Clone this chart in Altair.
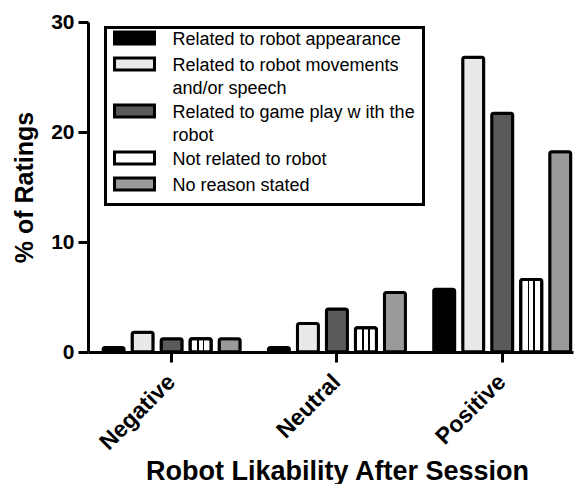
import altair as alt
import pandas as pd

groups = ["Negative", "Neutral", "Positive"]
categories = [
    "Related to robot appearance",
    "Related to robot movements|and/or speech",
    "Related to game play w ith the|robot",
    "Not related to robot",
    "No reason stated",
]
appearance = [0.4, 0.4, 5.7]
movements = [1.8, 2.6, 26.8]
game_play = [1.2, 3.9, 21.7]
not_related = [1.2, 2.2, 6.6]
no_reason = [1.2, 5.4, 18.2]
y_ticks = [0, 10, 20, 30]

series = [appearance, movements, game_play, not_related, no_reason]
fills = ["#000000", "#e9e9e9", "#5a5a5a", "#ffffff", "#9a9a9a"]

rows = []
for cat, vals in zip(categories, series):
    for g, v in zip(groups, vals):
        rows.append({"group": g, "cat": cat, "value": v})
df = pd.DataFrame(rows)

FONT = "Liberation Sans"

x_enc = alt.X(
    "group:N",
    sort=groups,
    scale=alt.Scale(paddingInner=0.171, paddingOuter=0.0526, align=0.87),
    axis=alt.Axis(
        title="Robot Likability After Session",
        labelAngle=-45, labelAlign="right", labelBaseline="middle",
        labelPadding=16, labelFontSize=23, labelFontWeight="bold",
        titleFontSize=27, titleFontWeight="bold",
        titleX=249, titleY=127, titleBaseline="alphabetic", titleAlign="center",
        domainWidth=3, tickWidth=3, tickSize=10,
        domainColor="black", tickColor="black", labelColor="black", titleColor="black",
    ),
)
xo_enc = alt.XOffset(
    "cat:N", sort=categories,
    scale=alt.Scale(paddingInner=0.276, paddingOuter=0),
)
y_enc = alt.Y(
    "value:Q",
    scale=alt.Scale(domain=[0, 30], nice=False),
    axis=alt.Axis(
        values=y_ticks, title="% of Ratings", grid=False,
        labelFontSize=21, labelFontWeight="bold", labelPadding=4,
        titleFontSize=25, titleFontWeight="bold",
        titleX=-56, titleY=165, titleAngle=270, titleBaseline="alphabetic", titleAlign="center",
        domainWidth=3, tickWidth=3, tickSize=10,
        domainColor="black", tickColor="black", labelColor="black", titleColor="black",
    ),
)

sym_path = "M-3.33,-2.08H3.33V-0.08H-3.33Z"

color_enc = alt.Color(
    "cat:N", sort=categories,
    scale=alt.Scale(domain=categories, range=fills),
    title=None,
    legend=alt.Legend(
        orient="none", legendX=17.5, legendY=5.5,
        labelExpr="split(datum.label, '|')",
        labelFontSize=18, labelLimit=400, labelBaseline="alphabetic",
        labelColor="black",
        symbolType=sym_path, symbolSize=144,
        symbolStrokeColor="black", symbolStrokeWidth=3,
        symbolOffset=12, labelOffset=29,
        rowPadding=1, padding=8,
        strokeColor="black",
    ),
)

base = alt.Chart(df)

bars = base.mark_bar(stroke="black", strokeWidth=3, cornerRadius=2, strokeJoin="round").encode(
    x=x_enc, xOffset=xo_enc, y=y_enc, color=color_enc,
)

stripes = alt.LinearGradient(
    gradient="linear", x1=0, x2=1, y1=0, y2=0,
    stops=[
        alt.GradientStop(offset=0, color="white"),
        alt.GradientStop(offset=0.33, color="white"),
        alt.GradientStop(offset=0.33, color="black"),
        alt.GradientStop(offset=0.40, color="black"),
        alt.GradientStop(offset=0.40, color="white"),
        alt.GradientStop(offset=0.60, color="white"),
        alt.GradientStop(offset=0.60, color="black"),
        alt.GradientStop(offset=0.67, color="black"),
        alt.GradientStop(offset=0.67, color="white"),
        alt.GradientStop(offset=1, color="white"),
    ],
)

overlay = base.transform_filter(
    alt.datum.cat == categories[3]
).mark_bar(stroke="black", strokeWidth=3, cornerRadius=2, strokeJoin="round", fill=stripes).encode(
    x=x_enc, xOffset=xo_enc, y=y_enc,
)

chart = alt.layer(bars, overlay).properties(
    width=485, height=330,
    autosize=alt.AutoSizeParams(type="none"),
    padding={"left": 80, "top": 14, "right": 1, "bottom": 132},
).configure(
    font=FONT,
    style={"guide-label": {"lineHeight": 23}},
).configure_view(
    stroke="transparent",
).configure_legend(
    strokeWidth=3,
)

chart.save("out.html", embed_options={"renderer": "svg", "actions": False})
